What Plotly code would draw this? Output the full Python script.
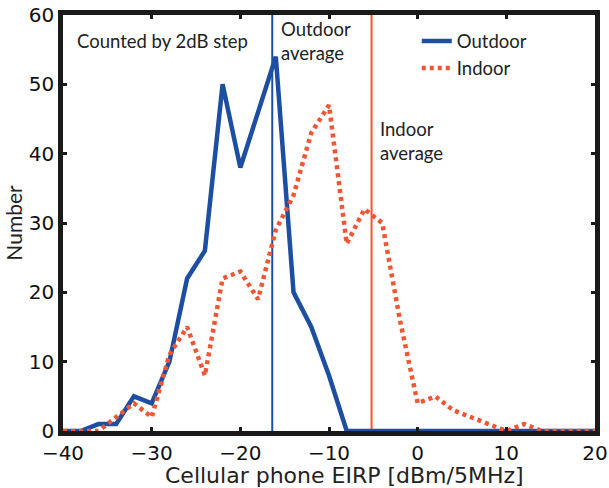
import plotly.graph_objects as go

eirp = list(range(-40, 21, 2))
outdoor = [0, 0, 1, 1, 5, 4, 10, 22, 26, 50, 38, 46, 54, 20, 15, 8, 0,
           0, 0, 0, 0, 0, 0, 0, 0, 0, 0, 0, 0, 0, 0]
indoor = [0, 0, 0, 2, 4, 2, 11, 15, 8, 22, 23, 19, 29, 34, 43, 47, 27,
          32, 30, 16, 4, 5, 3, 2, 1, 0, 1, 0, 0, 0, 0]
outdoor_avg = -16.4
indoor_avg = -5.2

blue = "#1C4FA1"
orange = "#F25532"
txt_font = dict(family="Lato, 'Open Sans', sans-serif", size=18.5, color="#222222")
tick_font = dict(family="'DejaVu Sans', sans-serif", size=20, color="#111111")

fig = go.Figure()
fig.add_trace(go.Scatter(x=eirp, y=outdoor, mode="lines", name="Outdoor",
                         line=dict(color=blue, width=4.5)))
fig.add_trace(go.Scatter(x=eirp, y=indoor, mode="lines", name="Indoor",
                         line=dict(color=orange, width=4.5, dash="4px,4px")))

fig.add_vline(x=outdoor_avg, line=dict(color=blue, width=2), layer="below")
fig.add_vline(x=indoor_avg, line=dict(color=orange, width=2), layer="below")

fig.add_annotation(x=-38.6, y=56.2, text="Counted by 2dB step", showarrow=False,
                   xanchor="left", yanchor="middle", font=txt_font)
fig.add_annotation(x=-15.6, y=59.8, text="Outdoor<br>average", showarrow=False,
                   xanchor="left", yanchor="top", font=txt_font, align="left")
fig.add_annotation(x=-4.5, y=45.5, text="Indoor<br>average", showarrow=False,
                   xanchor="left", yanchor="top", font=txt_font, align="left")
# x-axis title (slightly right of centre, as in the reference)
fig.add_annotation(xref="paper", yref="paper", x=0.53, y=-0.075,
                   text="Cellular phone EIRP [dBm/5MHz]", showarrow=False,
                   xanchor="center", yanchor="top", borderpad=0,
                   font=dict(family="'DejaVu Sans', sans-serif", size=22, color="#222222"))

axis_common = dict(showline=True, linecolor="#1a1a1a", linewidth=4.5, mirror="ticks",
                   ticks="inside", ticklen=4, tickwidth=3, tickcolor="#1a1a1a",
                   showgrid=False, zeroline=False, tickfont=tick_font, automargin=False,
                   ticklabeloverflow="allow")
fig.update_xaxes(range=[-40, 20], dtick=10, **axis_common)
fig.update_yaxes(range=[0, 60], dtick=10, title=dict(text="Number", font=dict(family="Lato, sans-serif", size=21, color="#222222"),
                 standoff=2), **axis_common)

fig.update_layout(
    width=609, height=488,
    margin=dict(l=63, r=14, t=15, b=57),
    plot_bgcolor="white", paper_bgcolor="white",
    legend=dict(x=0.665, y=0.982, xanchor="left", yanchor="top", bgcolor="rgba(0,0,0,0)",
                font=txt_font, itemwidth=30, tracegroupgap=0),
)

fig.write_html("out.html")
